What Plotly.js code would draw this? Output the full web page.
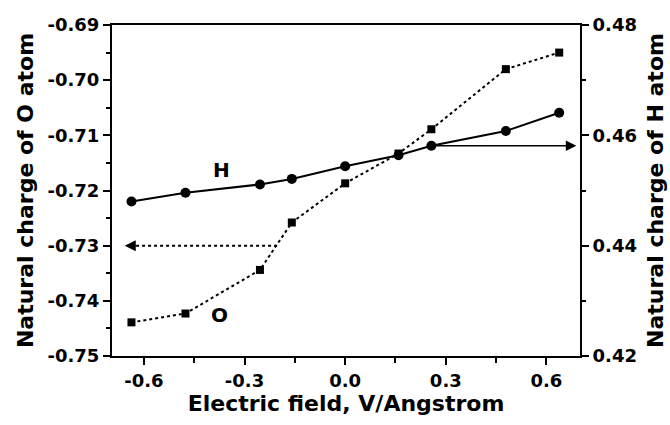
<!DOCTYPE html>
<html><head><meta charset="utf-8">
<script src="https://cdn.plot.ly/plotly-3.0.1.min.js"></script>
<style>html,body{margin:0;padding:0;background:#fff}#chart{width:670px;height:425px}</style>
</head><body><div id="chart"></div>
<script>
// Data
const field   = [-0.637, -0.476, -0.254, -0.159, 0.0, 0.159, 0.257, 0.479, 0.638];
const chargeO = [-0.7439, -0.7423, -0.7344, -0.7258, -0.7187, -0.7133, -0.7089, -0.6980, -0.6950];
const chargeH = [0.4480, 0.4496, 0.4511, 0.4521, 0.4544, 0.4564, 0.4581, 0.4608, 0.4641];

const xTickVals = [-0.6, -0.3, 0.0, 0.3, 0.6];
const xTickText = ['-0.6', '-0.3', '0.0', '0.3', '0.6'];
const xMinorVals = [-0.45, -0.15, 0.15, 0.45];
const oTickVals = [-0.75, -0.74, -0.73, -0.72, -0.71, -0.70, -0.69];
const oTickText = ['-0.75', '-0.74', '-0.73', '-0.72', '-0.71', '-0.70', '-0.69'];
const oMinorVals = [-0.745, -0.735, -0.725, -0.715, -0.705, -0.695];
const hTickVals = [0.42, 0.44, 0.46, 0.48];
const hTickText = ['0.42', '0.44', '0.46', '0.48'];
const hMinorVals = [0.43, 0.45, 0.47];

const FONT = 'DejaVu Sans, Arial, sans-serif';
const tickFont = {family: FONT, size: 18, color: '#000', weight: 'bold'};
const titleFont = {family: FONT, size: 22, color: '#000', weight: 'bold'};

const traces = [
  {x: field, y: chargeO, yaxis: 'y', type: 'scatter', mode: 'lines+markers', name: 'O',
   line: {color: '#000', width: 2, dash: 'dot'},
   marker: {symbol: 'square', size: 8, color: '#000'}},
  {x: field, y: chargeH, yaxis: 'y2', type: 'scatter', mode: 'lines+markers', name: 'H',
   line: {color: '#000', width: 2},
   marker: {symbol: 'circle', size: 10, color: '#000'}}
];

const layout = {
  width: 670, height: 425,
  margin: {l: 112, r: 90, t: 25, b: 69},
  paper_bgcolor: '#fff', plot_bgcolor: '#fff',
  showlegend: false,
  xaxis: {
    range: [-0.695, 0.7], tickmode: 'array', tickvals: xTickVals, ticktext: xTickText,
    ticks: 'outside', ticklen: 7, tickwidth: 2, tickcolor: '#000',
    minor: {tickmode: 'array', tickvals: xMinorVals, ticks: 'outside', ticklen: 5, tickwidth: 2, tickcolor: '#000'},
    showline: true, linewidth: 2, linecolor: '#000', mirror: true,
    showgrid: false, zeroline: false, tickfont: tickFont,
    title: {text: 'Electric field, V/Angstrom', font: titleFont, standoff: 4}
  },
  yaxis: {
    range: [-0.75, -0.69], tickmode: 'array', tickvals: oTickVals, ticktext: oTickText,
    ticks: 'outside', ticklen: 7, tickwidth: 2, tickcolor: '#000',
    minor: {tickmode: 'array', tickvals: oMinorVals, ticks: 'outside', ticklen: 4, tickwidth: 2, tickcolor: '#000'},
    showline: true, linewidth: 2, linecolor: '#000',
    showgrid: false, zeroline: false, tickfont: tickFont,
    title: {text: 'Natural charge of O atom', font: titleFont, standoff: 8}
  },
  yaxis2: {
    overlaying: 'y', side: 'right', anchor: 'x',
    range: [0.42, 0.48], tickmode: 'array', tickvals: hTickVals, ticktext: hTickText,
    ticks: 'outside', ticklen: 7, tickwidth: 2, tickcolor: '#000',
    minor: {tickmode: 'array', tickvals: hMinorVals, ticks: 'outside', ticklen: 4, tickwidth: 2, tickcolor: '#000'},
    showline: true, linewidth: 2, linecolor: '#000',
    showgrid: false, zeroline: false, tickfont: tickFont,
    title: {text: 'Natural charge of H atom', font: titleFont, standoff: 12}
  },
  shapes: [
    {type: 'line', xref: 'x', yref: 'y', x0: -0.203, y0: -0.73, x1: -0.63, y1: -0.73,
     line: {color: '#000', width: 2, dash: 'dot'}}
  ],
  annotations: [
    {x: -0.370, y: -0.7163, xref: 'x', yref: 'y', text: 'H', showarrow: false,
     font: {family: FONT, size: 20, color: '#000', weight: 'bold'}},
    {x: -0.374, y: -0.7426, xref: 'x', yref: 'y', text: 'O', showarrow: false,
     font: {family: FONT, size: 20, color: '#000', weight: 'bold'}},
    {x: 0.689, y: 0.4581, xref: 'x', yref: 'y2', ax: 0.257, ay: 0.4581, axref: 'x', ayref: 'y2',
     text: '', showarrow: true, arrowhead: 2, arrowsize: 1.5, arrowwidth: 1.4, arrowcolor: '#000'},
    {x: -0.657, y: -0.73, xref: 'x', yref: 'y', ax: -0.62, ay: -0.73, axref: 'x', ayref: 'y',
     text: '', showarrow: true, arrowhead: 2, arrowsize: 1.1, arrowwidth: 2, arrowcolor: '#000'}
  ]
};

Plotly.newPlot('chart', traces, layout, {displayModeBar: false, staticPlot: true});
</script>
</body></html>
